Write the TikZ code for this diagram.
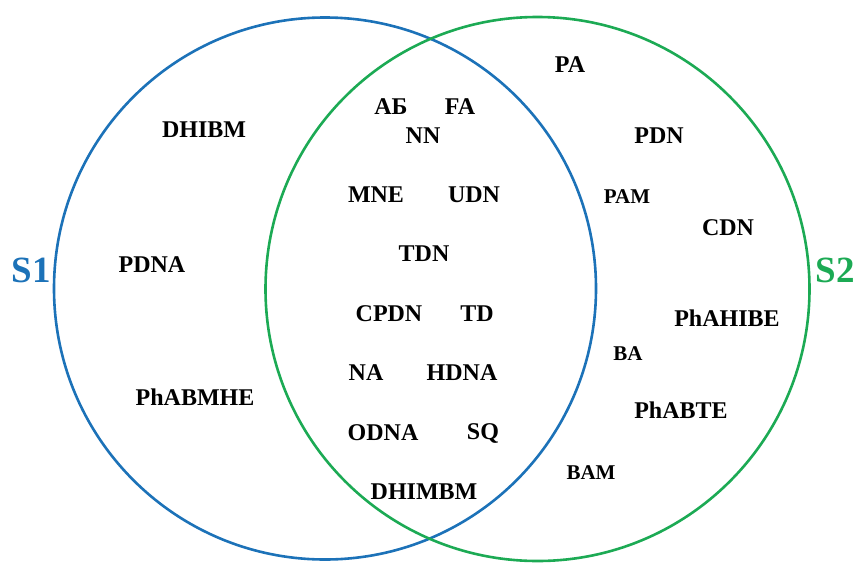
\documentclass[tikz,border=0pt]{standalone}
\usepackage{fontspec}
\setmainfont{Liberation Serif}
\definecolor{setblue}{RGB}{28,114,184}
\definecolor{setgreen}{RGB}{28,170,84}
\begin{document}
\begin{tikzpicture}[x=1pt,y=-1pt,
  lbl/.style={inner sep=0pt,font=\fontsize{24}{24}\selectfont\bfseries},
  lbls/.style={inner sep=0pt,font=\fontsize{21}{21}\selectfont\bfseries},
  setname/.style={inner sep=0pt,font=\fontsize{37}{37}\selectfont\bfseries},
  ring/.style={line width=2.6pt}]
\useasboundingbox (0,0) rectangle (856,565);
\node[ring,draw=setblue,circle,minimum size=542pt,inner sep=0pt] (s1) at (325,288.5) {};
\node[ring,draw=setgreen,circle,minimum size=544pt,inner sep=0pt] (s2) at (537.5,289) {};
\node[setname,text=setblue] (l1) at (31,270) {S1};
\node[setname,text=setgreen] (l2) at (835,270) {S2};
% S1 only
\node[lbl] (a1) at (204,130) {DHIBM};
\node[lbl] (a2) at (152,265) {PDNA};
\node[lbl] (a3) at (195,397) {PhABMHE};
% intersection
\node[lbl] (b1) at (391,107) {АБ};
\node[lbl] (b2) at (460,107) {FA};
\node[lbl] (b3) at (423,136) {NN};
\node[lbl] (b4) at (376,195) {MNE};
\node[lbl] (b5) at (474,195) {UDN};
\node[lbl] (b6) at (424,254) {TDN};
\node[lbl] (b7) at (389,314) {CPDN};
\node[lbl] (b8) at (477,314) {TD};
\node[lbl] (b9) at (366,373) {NA};
\node[lbl] (b10) at (462,373) {HDNA};
\node[lbl] (b11) at (383,433) {ODNA};
\node[lbl] (b12) at (483,433) {SQ};
\node[lbl] (b13) at (424,492) {DHIMBM};
% S2 only
\node[lbl] (c1) at (570,65) {PA};
\node[lbl] (c2) at (659,136) {PDN};
\node[lbls] (c3) at (627,197) {PAM};
\node[lbl] (c4) at (728,228) {CDN};
\node[lbl] (c5) at (727,318) {PhAHIBE};
\node[lbls] (c6) at (628,354) {BA};
\node[lbl] (c7) at (681,410) {PhABTE};
\node[lbls] (c8) at (591,473) {BAM};
\end{tikzpicture}
\end{document}
